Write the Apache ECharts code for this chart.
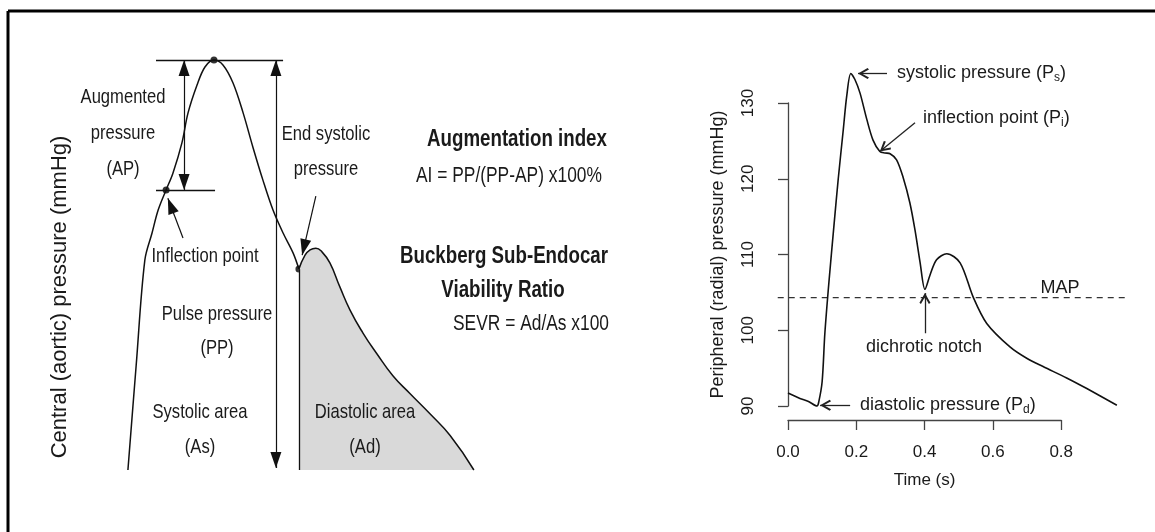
<!DOCTYPE html>
<html><head><meta charset="utf-8">
<script src="https://cdn.jsdelivr.net/npm/echarts@6/dist/echarts.min.js"></script>
<style>html,body{margin:0;padding:0;background:#fff}#c{width:1155px;height:532px}</style>
</head><body><div id="c"></div>
<script>
// ---------- Left schematic: central (aortic) waveform, arbitrary units ----------
const systolicCurve = [[2.2,0],[4.5,25.6],[6.9,51.2],[8.9,57.8],[10.6,63.4],[12.8,68.3],[14.7,72.4],[17.2,79.8],[18.9,87.1],[21.4,93.9],[23.6,98.3],[26.1,100],[28.6,98.8],[31.4,94.4],[34.2,87.1],[36.9,78.8],[39.7,70.7],[42.5,63.4],[45.3,57.8],[48.1,52.9],[49.7,49.0]];
const diastolicCurve = [[49.7,49.0],[51.4,52.4],[52.8,53.7],[54.4,54.1],[56.1,53.2],[58.3,50.5],[61.1,44.6],[63.9,39.0],[67.5,33.4],[71.4,28.3],[75.8,23.0],[80.6,18.6],[86.1,13.7],[91.7,8.4],[98.3,0]];
const keyPoints = [[12.8,68.3],[26.1,100],[49.7,49.0]];       // inflection, peak, end-systolic
const peakLevelLine = [[10,100],[45.3,100]];
const inflectionLevelLine = [[10,68.3],[26.4,68.3]];
const notchEdgeLine = [[49.7,0],[49.7,49.0]];
const apArrow = [[17.8,68.3],[17.8,100]];
const ppArrow = [[43.3,0.5],[43.3,100]];
const inflectionPointer = [[17.5,56.6],[13.3,66.3]];
const endSystolicPointer = [[54.4,66.8],[50.6,52.4]];

// ---------- Right chart: peripheral (radial) waveform ----------
const timeS = [0.0,0.035,0.06,0.085,0.09,0.1,0.108,0.12,0.135,0.147,0.162,0.172,0.184,0.196,0.211,0.231,0.249,0.269,0.284,0.299,0.318,0.337,0.357,0.372,0.387,0.401,0.416,0.435,0.465,0.504,0.543,0.582,0.65,0.699,0.747,0.816,0.875,0.963];
const radialP = [91.7,91.0,90.6,90.0,90.5,93.2,99.6,106.4,114.0,119.9,126.5,130.9,133.9,133.1,131.3,127.8,125.1,123.6,123.4,123.3,122.5,120.2,116.8,113.2,108.9,105.4,107.3,109.3,110.1,108.9,104.3,100.9,97.8,96.3,95.2,93.7,92.3,90.1];
const mapLevel = 104.3;
const mapSpan = [-0.03, 0.993];
const xTickValues = [0, 0.2, 0.4, 0.6, 0.8];
const yTickValues = [90, 100, 110, 120, 130];
const psPointer = [[0.29,133.9],[0.205,133.9]];
const piPointer = [[0.372,127.4],[0.269,123.6]];
const notchPointer = [[0.401,99.6],[0.401,104.9]];
const pdPointer = [[0.182,90.1],[0.094,90.1]];

const SANS = "'Liberation Sans',Arial,Helvetica,sans-serif";
const chevron = 'path://M5,0 L10,8.4 L8.6,9.6 L5,3.3 L1.4,9.6 L0,8.4 Z';
const TRI = {symbol: 'triangle', symbolSize: [11, 16], symbolOffset: [0, 8]};
const CHV = {symbol: chevron, symbolSize: [11, 11], symbolOffset: [0, 5.5]};
const NONE = {symbol: 'none'};

function seg(p, a, b) {
  return [Object.assign({coord: p[0]}, a), Object.assign({coord: p[1]}, b)];
}

const chart = echarts.init(document.getElementById('c'), null, {renderer: 'canvas'});

function txt(text, x, y, opts) {
  opts = opts || {};
  return {
    type: 'text', x: x, y: y, rotation: opts.rotation || 0, scaleX: opts.scaleX || 1, z: 10,
    style: Object.assign({
      text: text, fill: opts.fill || '#1a1a1a',
      font: opts.font, align: opts.align || 'center', verticalAlign: 'middle',
      lineHeight: opts.lineHeight
    }, opts.extra || {})
  };
}
const rf = s => s + 'px ' + SANS;
const bf = s => 'bold ' + s + 'px ' + SANS;
const NS = 0.79;   // condensed look of the schematic's lettering
const BS = 0.78;
const clipR = 610; // the schematic's text block is cut at this x

const subRich = {
  a: {fontSize: 18, fontFamily: SANS, fill: '#1a1a1a'},
  s: {fontSize: 12, fontFamily: SANS, fill: '#1a1a1a', padding: [9, 0, 0, 0]}
};

const option = {
  animation: false,
  backgroundColor: '#fff',
  grid: [
    {left: 120, top: 60, width: 360, height: 410},
    {left: 788, top: 103, width: 273.2, height: 303},
    {left: 770.9, top: 65.1, width: 358.6, height: 378.75}
  ],
  xAxis: [
    {gridIndex: 0, type: 'value', min: 0, max: 100, show: false},
    {gridIndex: 1, type: 'value', min: 0, max: 0.8, interval: 0.2, offset: 14,
     name: 'Time (s)', nameLocation: 'middle', nameGap: 52,
     nameTextStyle: {fontSize: 17, fontFamily: SANS, color: '#1a1a1a'},
     axisLine: {show: true, lineStyle: {color: '#444', width: 1.3}},
     axisTick: {show: true, length: 10, lineStyle: {color: '#444', width: 1.3}},
     axisLabel: {margin: 24, fontSize: 17, fontFamily: SANS, color: '#1a1a1a',
       formatter: v => xTickValues.indexOf(+v.toFixed(1)) >= 0 ? v.toFixed(1) : ''},
     splitLine: {show: false}},
    {gridIndex: 2, type: 'value', min: -0.05, max: 1.0, show: false}
  ],
  yAxis: [
    {gridIndex: 0, type: 'value', min: 0, max: 100, show: false},
    {gridIndex: 1, type: 'value', min: 90, max: 130, interval: 10, offset: 13,
     name: 'Peripheral (radial) pressure (mmHg)', nameLocation: 'middle', nameGap: 48,
     nameTextStyle: {fontSize: 18, fontFamily: SANS, color: '#1a1a1a'},
     axisLine: {show: true, lineStyle: {color: '#444', width: 1.3}},
     axisTick: {show: true, length: 10, lineStyle: {color: '#444', width: 1.3}},
     axisLabel: {rotate: 90, margin: 18, fontSize: 17, fontFamily: SANS, color: '#1a1a1a',
       formatter: v => yTickValues.indexOf(v) >= 0 ? String(v) : ''},
     splitLine: {show: false}},
    {gridIndex: 2, type: 'value', min: 85, max: 135, show: false}
  ],
  series: [
    { // systolic part of central waveform + filled arrows
      type: 'line', xAxisIndex: 0, yAxisIndex: 0, data: systolicCurve, smooth: 0.35,
      showSymbol: false, clip: false, lineStyle: {color: '#111', width: 1.5},
      markLine: {
        silent: true, symbol: ['none', 'none'], symbolSize: 12,
        lineStyle: {color: '#111', width: 1.2, type: 'solid'}, label: {show: false},
        data: [seg(apArrow, TRI, TRI), seg(ppArrow, TRI, TRI),
               seg(inflectionPointer, NONE, TRI), seg(endSystolicPointer, NONE, TRI)]
      }
    },
    { // diastolic part with shaded area
      type: 'line', xAxisIndex: 0, yAxisIndex: 0, data: diastolicCurve, smooth: 0.5,
      showSymbol: false, clip: false, lineStyle: {color: '#111', width: 1.5},
      areaStyle: {color: '#d9d9d9', opacity: 1, origin: 'start'},
      markLine: {
        silent: true, symbol: ['none', 'none'],
        lineStyle: {color: '#111', width: 1.3, type: 'solid'}, label: {show: false},
        data: [seg(peakLevelLine, NONE, NONE), seg(inflectionLevelLine, NONE, NONE), seg(notchEdgeLine, NONE, NONE)]
      }
    },
    {
      type: 'scatter', xAxisIndex: 0, yAxisIndex: 0, data: keyPoints, symbolSize: 7,
      clip: false, itemStyle: {color: '#000'}
    },
    { type: 'line', xAxisIndex: 1, yAxisIndex: 1, data: [] },
    { // MAP dashed line
      type: 'line', xAxisIndex: 2, yAxisIndex: 2,
      data: [[mapSpan[0], mapLevel], [mapSpan[1], mapLevel]],
      showSymbol: false, lineStyle: {color: '#333', width: 1.2, type: [6, 5]}
    },
    { // radial waveform + open arrows
      type: 'line', xAxisIndex: 2, yAxisIndex: 2,
      data: timeS.map((t, i) => [t, radialP[i]]), smooth: 0.3,
      showSymbol: false, lineStyle: {color: '#111', width: 1.6},
      markLine: {
        silent: true, symbol: ['none', 'none'], symbolSize: 11,
        lineStyle: {color: '#222', width: 1.3, type: 'solid'}, label: {show: false},
        data: [seg(psPointer, NONE, CHV), seg(piPointer, NONE, CHV), seg(notchPointer, NONE, CHV), seg(pdPointer, NONE, CHV)]
      }
    }
  ],
  graphic: [
    {type: 'line', shape: {x1: 8, y1: 11, x2: 1155, y2: 11}, style: {stroke: '#000', lineWidth: 3}},
    {type: 'line', shape: {x1: 8, y1: 11, x2: 8, y2: 532}, style: {stroke: '#000', lineWidth: 3}},
    txt('Central (aortic) pressure (mmHg)', 60, 297, {font: rf(22), rotation: Math.PI / 2}),
    txt('Augmented\npressure\n(AP)', 123, 133, {font: rf(21), lineHeight: 36, scaleX: NS}),
    txt('End systolic\npressure', 326, 152, {font: rf(21), lineHeight: 35, scaleX: NS}),
    txt('Inflection point', 205, 256, {font: rf(21), scaleX: NS}),
    txt('Pulse pressure\n(PP)', 217, 331, {font: rf(21), lineHeight: 34, scaleX: NS}),
    txt('Systolic area\n(As)', 200, 430, {font: rf(21), lineHeight: 35, scaleX: NS}),
    txt('Diastolic area\n(Ad)', 365, 430, {font: rf(21), lineHeight: 35, scaleX: NS}),
    txt('Augmentation index', 427, 139, {font: bf(24), align: 'left', scaleX: BS,
      extra: {width: (clipR - 427) / BS, overflow: 'truncate', ellipsis: ''}}),
    txt('AI = PP/(PP-AP) x100%', 416, 176, {font: rf(22), align: 'left', scaleX: NS,
      extra: {width: (clipR - 416) / NS, overflow: 'truncate', ellipsis: ''}}),
    txt('Buckberg Sub-Endocardial', 400, 256, {font: bf(24), align: 'left', scaleX: BS,
      extra: {width: (clipR - 400) / BS, overflow: 'truncate', ellipsis: ''}}),
    txt('Viability Ratio', 503, 290, {font: bf(24), scaleX: BS}),
    txt('SEVR = Ad/As x100%', 453, 324, {font: rf(22), align: 'left', scaleX: NS,
      extra: {width: (clipR - 453) / NS, overflow: 'truncate', ellipsis: ''}}),
    {type: 'text', x: 897, y: 73, z: 10, style: {text: '{a|systolic pressure (P}{s|s}{a|)}', rich: subRich, align: 'left', verticalAlign: 'middle'}},
    {type: 'text', x: 923, y: 118, z: 10, style: {text: '{a|inflection point (P}{s|i}{a|)}', rich: subRich, align: 'left', verticalAlign: 'middle'}},
    {type: 'text', x: 860, y: 405, z: 10, style: {text: '{a|diastolic pressure (P}{s|d}{a|)}', rich: subRich, align: 'left', verticalAlign: 'middle'}},
    txt('dichrotic notch', 924, 347, {font: rf(18)}),
    txt('MAP', 1060, 288, {font: rf(18)})
  ]
};
chart.setOption(option);
</script>
</body></html>
